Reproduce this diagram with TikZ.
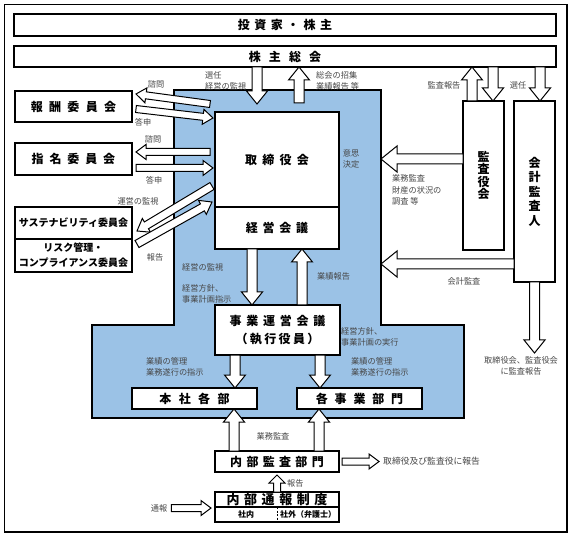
\documentclass[tikz,border=0pt]{standalone}
\usepackage{fontspec}
\setmainfont{Noto Sans CJK JP}
\usetikzlibrary{calc,positioning}
\definecolor{govBlue}{RGB}{155,194,230}
\definecolor{lblGray}{RGB}{70,70,70}

% block arrow: [style]{tail}{tip}{half shaft}{half head}{head length}
\newcommand{\blockarrow}[6][]{%
  \coordinate (ba) at #2;
  \coordinate (bt) at #3;
  \coordinate (bh) at ($(bt)!#6!(ba)$);
  \draw[barr,#1] ($(ba)!#4!90:(bt)$) -- ($(bh)!#4!90:(bt)$) -- ($(bh)!#5!90:(bt)$) -- (bt)
    -- ($(bh)!#5!-90:(bt)$) -- ($(bh)!#4!-90:(bt)$) -- ($(ba)!#4!-90:(bt)$) -- cycle;
}
\newcommand{\bigarrow}[2]{\blockarrow{#1}{#2}{5pt}{10.5pt}{13pt}}
\newcommand{\thinarrow}[2]{\blockarrow{#1}{#2}{3.5pt}{7.5pt}{10pt}}

\tikzset{
    every node/.append style={align=center},
    box/.style={rectangle,draw=black,line width=1.5pt,fill=white,inner sep=0pt,outer sep=0pt,
        font=\fontsize{12}{14}\selectfont\bfseries},
    spaced/.style={font=\fontsize{12}{14}\selectfont\bfseries\addfontfeature{LetterSpace=#1}},
    cmt/.style={font=\fontsize{10}{15}\selectfont\bfseries},
    lbl/.style={font=\fontsize{8.2}{11.5}\selectfont,text=lblGray,inner sep=0pt,align=left},
    barr/.style={draw=black,fill=white,line width=1pt,line join=miter},
    region/.style={draw=black,line width=1.5pt,fill=govBlue,line join=miter}
}

\begin{document}
\begin{tikzpicture}[x=1pt,y=-1pt]
    \useasboundingbox (0,0) rectangle (573,537);
    % frame and business area
    \draw[line width=1.3pt] (4.5,4.5) rectangle (567,532);
    \draw[region] (174,90) -- (381,90) -- (381,325) -- (464,325) -- (464,418)
        -- (92,418) -- (92,325) -- (174,325) -- cycle;
    \coordinate (blueNE) at (381,90);

    % shareholders
    \node[box,spaced=37,minimum width=542pt,minimum height=22pt] (toushika) at (285,25)   {投資家・株主};
    \node[box,spaced=67,minimum width=542pt,minimum height=21pt] (soukai)   at (285,56.5) {株主総会};

    % committees
    \node[box,spaced=53,minimum width=117pt,minimum height=31pt] (housyu)  at (73.5,106.5) {報酬委員会};
    \node[box,spaced=49,minimum width=117pt,minimum height=32pt] (shimei)  at (73.5,159)   {指名委員会};
    \node[box,cmt,minimum width=117pt,minimum height=32pt]       (sustain) at (73.5,223)   {サステナビリティ委員会};
    \node[box,cmt,minimum width=117pt,minimum height=33pt,below=0pt of sustain] (risk) {リスク管理・\\コンプライアンス委員会};

    % board and execution
    \node[box,spaced=44,minimum width=124pt,minimum height=95pt] (torishimari) at (277,159.5) {取締役会};
    \node[box,spaced=40,minimum width=124pt,minimum height=42pt,below=0pt of torishimari] (keiei) {経営会議};
    \node[box,font=\fontsize{12}{18}\selectfont\bfseries,minimum width=125pt,minimum height=50pt] (jigyou) at (277.5,330)
        {{\addfontfeature{LetterSpace=40}事業運営会議}\\{\addfontfeature{LetterSpace=20}（執行役員）}};
    \node[box,spaced=62,minimum width=125pt,minimum height=21pt] (honsha)     at (194.5,398.5) {本社各部};
    \node[box,spaced=57,minimum width=125pt,minimum height=21pt] (kakujigyou) at (359.5,398.5) {各事業部門};

    % internal audit
    \node[box,spaced=36,minimum width=124pt,minimum height=21pt] (naibu) at (277,461.5) {内部監査部門};
    \node[box,font=\fontsize{13}{14}\selectfont\bfseries\addfontfeature{LetterSpace=35},
        minimum width=124pt,minimum height=15pt] (tsuhou) at (277,499.5) {内部通報制度};
    \node[box,minimum width=124pt,minimum height=15pt,below=0pt of tsuhou] (tsuhousub) {};
    \draw[dash pattern=on 2pt off 1.5pt,line width=0.8pt] (tsuhousub.north) -- (tsuhousub.south);
    \node[font=\fontsize{8}{9}\selectfont\bfseries] (shanai) at ($(tsuhousub.west)!0.5!(tsuhousub.center)$) {社内};
    \node[font=\fontsize{8}{9}\selectfont\bfseries] (shagai) at ($(tsuhousub.center)!0.5!(tsuhousub.east)$) {社外（弁護士）};

    % auditors
    \node[box,font=\fontsize{12}{12.5}\selectfont\bfseries,minimum width=41pt,minimum height=149pt] (kansayaku) at (483.5,175.5) {監\\査\\役\\会};
    \node[box,font=\fontsize{12}{14.5}\selectfont\bfseries,minimum width=41pt,minimum height=181pt] (kaikei)    at (534.5,191.5) {会\\計\\監\\査\\人};

    % labels
    \node[lbl,anchor=west] (sennin1)  at (205,81)  {選任\\経営の監視};
    \node[lbl,anchor=west] (shoushu)  at (316,81)  {総会の招集\\業績報告 等};
    \node[lbl]             (kansahoukoku) at (444,85) {監査報告};
    \node[lbl]             (sennin2)  at (518,85)  {選任};
    \node[lbl]             (shimon1)  at (156,84)  {諮問};
    \node[lbl]             (toushin1) at (143,122) {答申};
    \node[lbl]             (shimon2)  at (153,139) {諮問};
    \node[lbl]             (toushin2) at (154,180) {答申};
    \node[lbl]             (unei)     at (138,201) {運営の監視};
    \node[lbl]             (houkoku1) at (155,257) {報告};
    \node[lbl]             (ishi)     at (351,159) {意思\\決定};
    \node[lbl,anchor=west] (gyoumu)   at (392,190) {業務監査\\財産の状況の\\調査 等};
    \node[lbl]             (kaikeikansa) at (464,281) {会計監査};
    \node[lbl,anchor=west] (keieikanshi) at (182,267) {経営の監視};
    \node[lbl,anchor=west] (houshin)  at (182,294) {経営方針、\\事業計画指示};
    \node[lbl,anchor=west] (gyouseki) at (317,276) {業績報告};
    \node[lbl,anchor=west] (jikkou)   at (341,337) {経営方針、\\事業計画の実行};
    \node[lbl,anchor=west] (kanri1)   at (146,367) {業績の管理\\業務遂行の指示};
    \node[lbl,anchor=west] (kanri2)   at (351,367) {業績の管理\\業務遂行の指示};
    \node[lbl,align=center] (kansahoukoku2) at (521,366) {取締役会、監査役会\\に監査報告};
    \node[lbl]             (gyoumukansa) at (273,436) {業務監査};
    \node[lbl,anchor=west] (houkoku2) at (287,483) {報告};
    \node[lbl]             (tsuuhou)  at (159,508) {通報};
    \node[lbl,anchor=west,font=\fontsize{8.8}{11}\selectfont] (houkoku3) at (383,461.5) {取締役及び監査役に報告};

    % shareholders' meeting
    \bigarrow{(soukai.south -| 257,0)}{($(torishimari.north)+(-20,-8)$)}
    \bigarrow{($(torishimari.north)+(22,-9)$)}{($(soukai.south)+(14,0)$)}
    \bigarrow{($(kansayaku.north)+(-11.5,0)$)}{(soukai.south -| 472,0)}
    \bigarrow{(soukai.south -| 493,0)}{($(kansayaku.north)+(9.5,0)$)}
    \bigarrow{(soukai.south -| 540,0)}{($(kaikei.north)+(5.5,0)$)}

    % audit
    \blockarrow{(kansayaku.west |- 0,159)}{(blueNE |- 0,159)}{5pt}{13pt}{16pt}
    \blockarrow{(kaikei.west |- 0,264)}{(blueNE |- 0,264)}{5pt}{13pt}{16pt}
    \bigarrow{(kaikei.south)}{(kaikei.south |- 0,353)}

    % committees
    \thinarrow{($(torishimari.west)+(-5,-55.5)$)}{($(housyu.east)+(4,-12.5)$)}
    \thinarrow{($(housyu.east)+(4,2.5)$)}{($(torishimari.west)+(-2,-41.5)$)}
    \thinarrow{($(torishimari.west)+(-5,-7.5)$)}{($(shimei.east)+(4,-7)$)}
    \thinarrow{($(shimei.east)+(4,9)$)}{($(torishimari.west)+(-2,8.5)$)}
    \blockarrow{($(torishimari.west)+(-3,26.5)$)}{($(sustain.east)+(5,8)$)}{4pt}{8pt}{11pt}
    \blockarrow{($(risk.east)+(5,-11.5)$)}{($(torishimari.west)+(-3,42.5)$)}{4pt}{8pt}{11pt}

    % management
    \bigarrow{($(keiei.south)+(-25,0)$)}{($(jigyou.north)+(-25.5,0)$)}
    \bigarrow{($(jigyou.north)+(24.5,0)$)}{($(keiei.south)+(25,0)$)}
    \bigarrow{($(jigyou.south)+(-42.5,0)$)}{($(honsha.north)+(40.5,0)$)}
    \bigarrow{($(jigyou.south)+(42.5,0)$)}{($(kakujigyou.north)+(-39.5,0)$)}

    % internal audit
    \bigarrow{($(naibu.north)+(-43,0)$)}{($(honsha.south)+(39.5,0)$)}
    \bigarrow{($(naibu.north)+(42,0)$)}{($(kakujigyou.south)+(-40.5,0)$)}
    \thinarrow{($(naibu.east)+(3,0)$)}{($(houkoku3.west)+(-4,0)$)}
    \blockarrow{(tsuhou.north)}{($(naibu.south)+(0,3)$)}{3.5pt}{8pt}{8pt}
    \thinarrow{($(tsuuhou.east)+(4,0)$)}{($(tsuhou.south west)+(-4,1)$)}
\end{tikzpicture}
\end{document}
